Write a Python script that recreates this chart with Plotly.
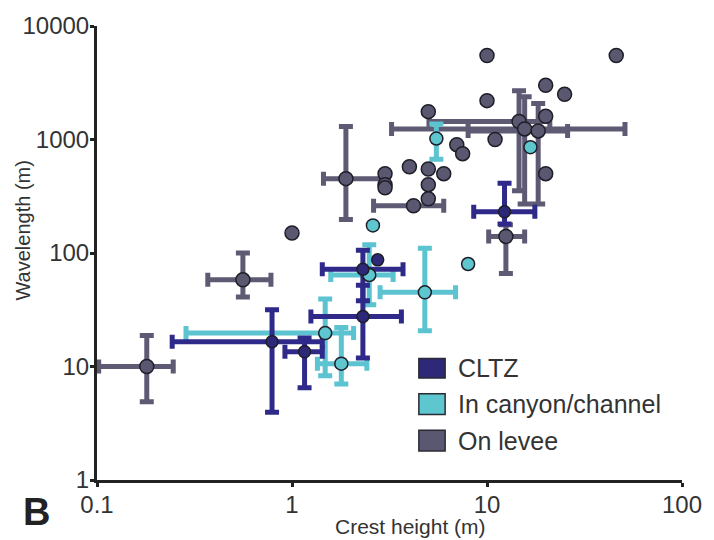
import plotly.graph_objects as go

# ---------------- data ----------------
# On levee: points with error bars
levee_x = [0.18, 0.56, 1.89, 4.2, 12.5, 14.6, 15.6, 18.3]
levee_y = [10, 58, 452, 261, 140, 1440, 1240, 1190]
levee_xlo = [0.102, 0.37, 1.45, 2.62, 10.2, 5.04, 3.24, 8.0]
levee_xhi = [0.246, 0.78, 2.9, 6.0, 15.6, 21.0, 51.0, 25.9]
levee_ylo = [4.9, 41, 197, None, 66, 353, 270, 270]
levee_yhi = [18.8, 100, 1300, None, 177, 2690, 2380, 2080]
# On levee: points without error bars
levee_px = [10, 46, 20, 25, 10, 5, 20, 11, 7, 7.5, 4, 5, 6, 20, 3, 3, 3, 5, 5, 1]
levee_py = [5500, 5500, 3000, 2500, 2200, 1760, 1600, 1000, 900, 750, 575, 550, 500, 500, 500, 400, 375, 400, 300, 150]

# In canyon/channel: points with error bars
canyon_x = [5.5, 2.49, 4.8, 1.48, 1.79]
canyon_y = [1020, 64, 45, 19.7, 10.6]
canyon_xlo = [None, 1.58, 2.83, 0.286, 1.35]
canyon_xhi = [None, 3.30, 6.9, 2.07, 2.42]
canyon_ylo = [670, 35, 20.7, 8.3, 7.0]
canyon_yhi = [1370, 118, 110, 39.4, 22.1]
canyon_px = [16.7, 2.6, 8]
canyon_py = [855, 175, 80]

# CLTZ: points with error bars
cltz_x = [12.3, 2.31, 2.31, 0.79, 1.16]
cltz_y = [231, 72, 27.6, 16.5, 13.5]
cltz_xlo = [8.55, 1.43, 1.25, 0.243, 0.92]
cltz_xhi = [17.6, 3.71, 3.64, 1.43, 1.43]
cltz_ylo = [180, 38, 11.9, 3.95, 6.5]
cltz_yhi = [411, 106, 52, 31.6, 17.8]
cltz_px = [2.75]
cltz_py = [87]

x_ticks = [0.1, 1, 10, 100]
x_ticktext = ["0.1", "1", "10", "100"]
y_ticks = [1, 10, 100, 1000, 10000]
y_ticktext = ["1", "10", "100", "1000", "10000"]

legend_labels = ["CLTZ", "In canyon/channel", "On levee"]

# ---------------- styles ----------------
C_LEVEE = "#5e5a74"
C_CANYON = "#5cc3d0"
C_CLTZ = "#2f2a8a"
M_LEVEE = "#5a5770"
M_CANYON = "#5ec6cf"
M_CLTZ = "#2d2877"
OUTLINE = "#1e1e28"
FONT = "Liberation Sans, Arial, sans-serif"

fig = go.Figure()


def add_errors(xs, ys, xlo, xhi, ylo, yhi, color):
    for i in range(len(xs)):
        tr = dict(x=[xs[i]], y=[ys[i]], mode="markers",
                  marker=dict(size=1, opacity=0, color=color),
                  showlegend=False, hoverinfo="skip")
        if xlo[i] is not None:
            tr["error_x"] = dict(type="data", symmetric=False,
                                 array=[xhi[i] - xs[i]], arrayminus=[xs[i] - xlo[i]],
                                 color=color, thickness=5, width=7)
        if ylo[i] is not None:
            tr["error_y"] = dict(type="data", symmetric=False,
                                 array=[yhi[i] - ys[i]], arrayminus=[ys[i] - ylo[i]],
                                 color=color, thickness=5, width=7)
        fig.add_trace(go.Scatter(**tr))


add_errors(levee_x, levee_y, levee_xlo, levee_xhi, levee_ylo, levee_yhi, C_LEVEE)
add_errors(canyon_x, canyon_y, canyon_xlo, canyon_xhi, canyon_ylo, canyon_yhi, C_CANYON)
add_errors(cltz_x, cltz_y, cltz_xlo, cltz_xhi, cltz_ylo, cltz_yhi, C_CLTZ)

for xs, ys, fill, name, size in [
    (levee_x + levee_px, levee_y + levee_py, M_LEVEE, "On levee", 14),
    (canyon_x + canyon_px, canyon_y + canyon_py, M_CANYON, "In canyon/channel", 13),
    (cltz_x + cltz_px, cltz_y + cltz_py, M_CLTZ, "CLTZ", 12),
]:
    fig.add_trace(go.Scatter(
        x=xs, y=ys, mode="markers", name=name, showlegend=False,
        marker=dict(size=size, color=fill, line=dict(color=OUTLINE, width=1.5)),
    ))

# ---------------- layout ----------------
W, H = 714, 540
ML, MR, MT, MB = 97, 25, 23, 60
PW, PH = W - ML - MR, H - MT - MB


def px(xp):
    return (xp - ML) / PW


def py(yp):
    return (H - MB - yp) / PH


axis_common = dict(
    type="log", showline=True, linewidth=3, linecolor="#222222",
    ticks="outside", ticklen=4, tickwidth=2.5, tickcolor="#222222",
    showgrid=False, zeroline=False,
    tickfont=dict(family=FONT, size=24, color="#333333"),
)

fig.update_layout(
    width=W, height=H,
    margin=dict(l=ML, r=MR, t=MT, b=MB, pad=0),
    paper_bgcolor="white", plot_bgcolor="white",
    xaxis=dict(range=[-1, 2], tickvals=x_ticks, ticktext=x_ticktext,
               ticklabelstandoff=-3, **axis_common),
    yaxis=dict(range=[0, 4], tickvals=y_ticks, ticktext=y_ticktext,
               ticklabelstandoff=-4, **axis_common),
    showlegend=False,
)

annotations = [
    dict(text="Crest height (m)", x=px(414), y=py(527), xref="paper", yref="paper",
         showarrow=False, xanchor="center", yanchor="middle",
         font=dict(family=FONT, size=21, color="#333333")),
    dict(text="Wavelength (m)", x=px(22), y=py(229), xref="paper", yref="paper",
         showarrow=False, xanchor="center", yanchor="middle", textangle=-90,
         font=dict(family=FONT, size=20, color="#333333")),
    dict(text="<b>B</b>", x=px(20), y=py(512), xref="paper", yref="paper",
         showarrow=False, xanchor="left", yanchor="middle",
         font=dict(family=FONT, size=38, color="#222222")),
]

shapes = []
legend_fill = [M_CLTZ, M_CANYON, M_LEVEE]
legend_box_y = [(357.7, 377.3), (393.3, 414.0), (430.0, 450.7)]
legend_text_y = [367.5, 404, 441]
for lab, col, (y0, y1), ty in zip(legend_labels, legend_fill, legend_box_y, legend_text_y):
    shapes.append(dict(type="rect", xref="paper", yref="paper",
                       x0=px(422.7), x1=px(449.3), y0=py(y1), y1=py(y0),
                       fillcolor=col, line=dict(color="#2a2a33", width=1.5)))
    annotations.append(dict(text=lab, x=px(460), y=py(ty), xref="paper", yref="paper",
                            showarrow=False, xanchor="left", yanchor="middle",
                            font=dict(family=FONT, size=25, color="#333333")))

fig.update_layout(annotations=annotations, shapes=shapes)

fig.write_html("out.html")
